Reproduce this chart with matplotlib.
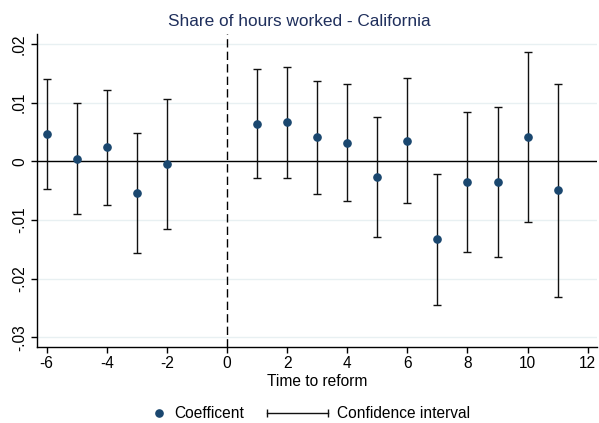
import numpy as np
import matplotlib
matplotlib.use("Agg")
import matplotlib.pyplot as plt
from matplotlib.lines import Line2D
from matplotlib.legend_handler import HandlerLine2D

plt.rcParams['font.family'] = ['Liberation Sans', 'DejaVu Sans']

# event-study estimates, relative to the reform year (0 omitted)
periods = [-6, -5, -4, -3, -2, 1, 2, 3, 4, 5, 6, 7, 8, 9, 10, 11]
coef = [0.00465, 0.00045, 0.00238, -0.00535, -0.00046, 0.00635, 0.00664, 0.00414,
        0.00317, -0.00273, 0.00351, -0.01329, -0.00347, -0.00347, 0.00414, -0.00494]
ci_low = [-0.00467, -0.00903, -0.00739, -0.01557, -0.01159, -0.00290, -0.00285, -0.00552,
          -0.00676, -0.01295, -0.00705, -0.02448, -0.01540, -0.01625, -0.01034, -0.02312]
ci_high = [0.01397, 0.00998, 0.01215, 0.00487, 0.01067, 0.01572, 0.01612, 0.01373,
           0.01312, 0.00755, 0.01419, -0.00216, 0.00840, 0.00925, 0.01862, 0.01312]

xticks = [-6, -4, -2, 0, 2, 4, 6, 8, 10, 12]
yticks = [-0.03, -0.02, -0.01, 0, 0.01, 0.02]
ytick_labels = ['-.03', '-.02', '-.01', '0', '.01', '.02']

navy = '#1a476f'
title_col = '#1f2f5c'
fs = 11.2

fig = plt.figure(figsize=(5.99, 4.23), dpi=100)
ax = fig.add_axes([0.0613, 0.1804, 0.9354, 0.7392])

x = np.array(periods)
y = np.array(coef)
lo = np.array(ci_low)
hi = np.array(ci_high)

for yt in yticks:
    ax.axhline(yt, color='#e8f0f2', lw=1.0, zorder=0)
ax.axhline(0, color='black', lw=1.0, zorder=1)
ax.axvline(0, color='black', lw=1.0, linestyle=(0, (6, 3)), zorder=1)

ax.errorbar(x, y, yerr=[y - lo, hi - y], fmt='none', ecolor='#111111',
            elinewidth=1.0, capsize=3, capthick=1.0, zorder=2)
ax.plot(x, y, 'o', color=navy, markersize=5.2, zorder=3)

ax.set_xlim(-6.33, 12.31)
ax.set_ylim(-0.0316, 0.0217)
ax.set_xticks(xticks)
ax.set_xticklabels([str(t) for t in xticks])
ax.set_yticks(yticks)
ax.set_yticklabels(ytick_labels, rotation=90, va='center')

for side in ['top', 'right']:
    ax.spines[side].set_visible(False)
for side in ['left', 'bottom']:
    ax.spines[side].set_linewidth(1.0)
ax.tick_params(direction='out', length=4, width=1.0, labelsize=fs, pad=3)

ax.set_xlabel('Time to reform', fontsize=fs, labelpad=2)
fig.text(0.5, 0.948, 'Share of hours worked - California', ha='center', va='center',
         fontsize=12.4, color=title_col)

# legend: coefficient marker and capped interval line side by side
coef_h = Line2D([], [], marker='o', color=navy, linestyle='none', markersize=5.2)
ci_h = Line2D([], [], color='#111111', lw=1.0, marker='|', markersize=6)
leg1 = fig.legend([coef_h], ['Coefficent'], loc='center', bbox_to_anchor=(0.331, 0.022),
                  frameon=False, fontsize=fs, handlelength=0.8, handletextpad=0.6,
                  numpoints=1)
leg2 = fig.legend([ci_h], ['Confidence interval'], loc='center', bbox_to_anchor=(0.616, 0.022),
                  frameon=False, fontsize=fs, handlelength=3.9, handletextpad=0.6,
                  handler_map={ci_h: HandlerLine2D(numpoints=2, marker_pad=0)})

fig.savefig('out.png', dpi=100, facecolor='white')
